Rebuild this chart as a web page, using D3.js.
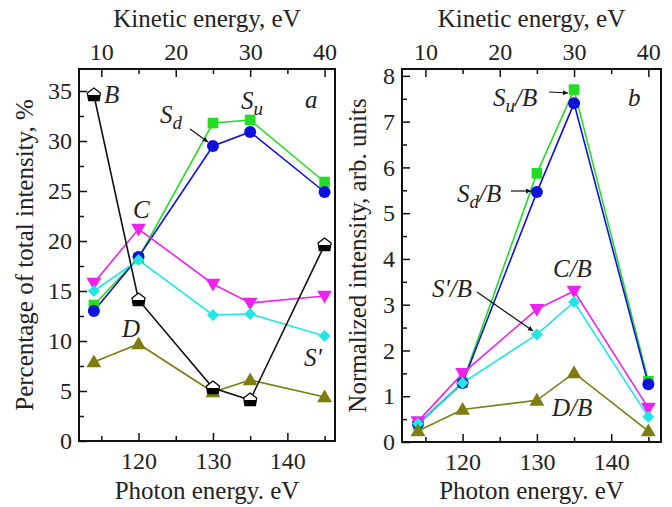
<!DOCTYPE html>
<html>
<head>
<meta charset="utf-8">
<script src="https://cdn.jsdelivr.net/npm/d3@7"></script>
<style>
  body { margin: 0; background: #fff; }
  svg { display: block; }
</style>
</head>
<body>
<svg id="chart" width="672" height="507" font-family="Liberation Serif"></svg>
<script>
// photon energies of the measured points
var photonEnergy = [114, 120, 130, 135, 145];
var kineticTicks = [10, 20, 30, 40];
var kineticMinor = [15, 25, 35];
var photonTicks = [120, 130, 140];
var photonMinor = [115, 125, 135, 145];
var kineticOffset = 105; // photon = kinetic + 105 eV

// panel a: percentage of total intensity
var pctSu = [13.6, 18.3, 31.8, 32.1, 25.9];
var pctSd = [13.0, 18.4, 29.5, 30.9, 24.9];
var pctC = [15.8, 21.2, 15.7, 13.8, 14.5];
var pctSp = [15.0, 18.1, 12.6, 12.7, 10.5];
var pctD = [7.9, 9.7, 4.9, 6.1, 4.4];
var pctB = [34.6, 14.1, 5.3, 4.1, 19.6];
var pctTicks = [0, 5, 10, 15, 20, 25, 30, 35];
var pctMinor = [2.5, 7.5, 12.5, 17.5, 22.5, 27.5, 32.5];

// panel b: normalized intensity (ratio to B)
var normSu = [0.38, 1.30, 5.87, 7.70, 1.33];
var normSd = [0.40, 1.29, 5.46, 7.40, 1.26];
var normC = [0.45, 1.50, 2.90, 3.30, 0.74];
var normSp = [0.40, 1.29, 2.35, 3.06, 0.55];
var normD = [0.24, 0.71, 0.91, 1.51, 0.24];
var normTicks = [0, 1, 2, 3, 4, 5, 6, 7, 8];
var normMinor = [0.5, 1.5, 2.5, 3.5, 4.5, 5.5, 6.5, 7.5];

var FONT = 'Liberation Serif';
var svg = d3.select('#chart');

var defs = svg.append('defs');
defs.append('marker')
    .attr('id', 'arrow')
    .attr('viewBox', '0 0 10 10')
    .attr('refX', 10).attr('refY', 5)
    .attr('markerWidth', 7).attr('markerHeight', 5)
    .attr('markerUnits', 'userSpaceOnUse')
    .attr('orient', 'auto')
    .append('path')
    .attr('d', 'M0,0 L10,5 L0,10 Z')
    .attr('fill', '#111');

function drawMarker(g, type, color, x, y) {
    if (type == 'circle') {
        g.append('circle').attr('cx', x).attr('cy', y).attr('r', 6).attr('fill', color);
    } else if (type == 'square') {
        g.append('rect').attr('x', x - 5.3).attr('y', y - 5.3).attr('width', 10.6).attr('height', 10.6).attr('fill', color);
    } else if (type == 'up') {
        g.append('path').attr('d', d3.symbol(d3.symbolTriangle, 95)())
            .attr('transform', 'translate(' + x + ',' + (y + 1) + ')').attr('fill', color);
    } else if (type == 'down') {
        g.append('path').attr('d', d3.symbol(d3.symbolTriangle, 95)())
            .attr('transform', 'translate(' + x + ',' + (y - 1) + ') rotate(180)').attr('fill', color);
    } else if (type == 'diamond') {
        g.append('path').attr('d', d3.symbol(d3.symbolSquare, 72)())
            .attr('transform', 'translate(' + x + ',' + y + ') rotate(45)').attr('fill', color);
    } else if (type == 'house') {
        g.append('path').attr('d', 'M0,-7 L6.5,-2 L5.2,5.5 L-5.2,5.5 L-6.5,-2 Z')
            .attr('transform', 'translate(' + x + ',' + y + ')')
            .attr('fill', '#fff').attr('stroke', '#000').attr('stroke-width', 1.3);
        g.append('path').attr('d', 'M-6,0 L6,0 L5.2,5.5 L-5.2,5.5 Z')
            .attr('transform', 'translate(' + x + ',' + y + ')')
            .attr('fill', '#000');
    }
}

function styleAxis(a) {
    a.select('.domain').remove();
    a.attr('font-family', FONT).attr('font-size', 24);
    a.selectAll('text').attr('fill', '#222');
}

function drawPanel(p) {
    var g = svg.append('g');
    var x = d3.scaleLinear().domain(p.xDomain).range([p.left, p.right]);
    var xk = d3.scaleLinear().domain([p.xDomain[0] - kineticOffset, p.xDomain[1] - kineticOffset]).range([p.left, p.right]);
    var y = d3.scaleLinear().domain(p.yDomain).range([p.bottom, p.top]);

    // bottom axis (inward ticks)
    g.append('g').attr('transform', 'translate(0,' + p.bottom + ')')
        .call(d3.axisBottom(x).tickValues(photonTicks).tickSize(-8).tickPadding(11))
        .call(styleAxis);
    g.append('g').attr('transform', 'translate(0,' + p.bottom + ')')
        .call(d3.axisBottom(x).tickValues(photonMinor).tickSize(-5).tickFormat(''))
        .call(styleAxis);
    // top axis: kinetic energy
    g.append('g').attr('transform', 'translate(0,' + p.top + ')')
        .call(d3.axisTop(xk).tickValues(kineticTicks).tickSize(-8).tickPadding(9))
        .call(styleAxis);
    g.append('g').attr('transform', 'translate(0,' + p.top + ')')
        .call(d3.axisTop(xk).tickValues(kineticMinor).tickSize(-5).tickFormat(''))
        .call(styleAxis);
    // left axis
    g.append('g').attr('transform', 'translate(' + p.left + ',0)')
        .call(d3.axisLeft(y).tickValues(p.yTicks).tickSize(-8).tickPadding(7))
        .call(styleAxis);
    g.append('g').attr('transform', 'translate(' + p.left + ',0)')
        .call(d3.axisLeft(y).tickValues(p.yMinor).tickSize(-5).tickFormat(''))
        .call(styleAxis);
    g.selectAll('.tick line').attr('stroke', '#111').attr('stroke-width', 1.5);

    g.append('rect')
        .attr('x', p.left).attr('y', p.top)
        .attr('width', p.right - p.left).attr('height', p.bottom - p.top)
        .attr('fill', 'none').attr('stroke', '#111').attr('stroke-width', 2);

    var line = d3.line().x((d, i) => x(photonEnergy[i])).y(d => y(d));
    p.series.forEach(function (s) {
        g.append('path').datum(s.values)
            .attr('d', line)
            .attr('fill', 'none')
            .attr('stroke', s.color)
            .attr('stroke-width', 1.6);
    });
    p.series.forEach(function (s) {
        s.values.forEach(function (v, i) {
            drawMarker(g, s.marker, s.color, x(photonEnergy[i]), y(v));
        });
    });

    // axis titles
    var cx = (p.left + p.right) / 2;
    g.append('text').attr('x', cx).attr('y', 27).attr('text-anchor', 'middle')
        .attr('font-family', FONT).attr('font-size', 25).attr('fill', '#222').text('Kinetic energy, eV');
    g.append('text').attr('x', cx).attr('y', 499).attr('text-anchor', 'middle')
        .attr('font-family', FONT).attr('font-size', 25).attr('fill', '#222').text('Photon energy. eV');
    g.append('text')
        .attr('transform', 'translate(' + p.yTitleX + ',' + ((p.top + p.bottom) / 2) + ') rotate(-90)')
        .attr('text-anchor', 'middle')
        .attr('font-family', FONT).attr('font-size', 25).attr('fill', '#222').text(p.yTitle);
    return g;
}

function label(g, px, py, parts, anchor) {
    var t = g.append('text').attr('x', px).attr('y', py)
        .attr('text-anchor', anchor || 'start')
        .attr('font-family', FONT).attr('font-size', 25)
        .attr('font-style', 'italic').attr('fill', '#222');
    parts.forEach(function (pt) {
        var ts = t.append('tspan').text(pt[0]);
        if (pt[1] == 'sub') ts.attr('dy', 6).attr('font-size', 19);
        if (pt[1] == 'up') ts.attr('dy', -6);
    });
}

var ga = drawPanel({
    left: 79, right: 335, top: 69, bottom: 441,
    xDomain: [112, 146.4], yDomain: [0, 37.2],
    yTicks: pctTicks, yMinor: pctMinor,
    yTitle: 'Percentage of total intensity, %', yTitleX: 33,
    series: [
        { values: pctSu, color: '#22dd22', marker: 'square' },
        { values: pctSd, color: '#1010dd', marker: 'circle' },
        { values: pctC, color: '#ee22ee', marker: 'down' },
        { values: pctSp, color: '#22e6e6', marker: 'diamond' },
        { values: pctD, color: '#7d7d10', marker: 'up' },
        { values: pctB, color: '#111', marker: 'house' }
    ]
});
label(ga, 104, 103, [['B']]);
label(ga, 160, 123, [['S'], ['d', 'sub']]);
label(ga, 241, 109, [['S'], ['u', 'sub']]);
label(ga, 305, 108, [['a']]);
label(ga, 133, 218, [['C']]);
label(ga, 122, 337, [['D']]);
label(ga, 304, 366, [["S'"]]);
ga.append('line').attr('x1', 190).attr('y1', 129).attr('x2', 208).attr('y2', 142)
    .attr('stroke', '#111').attr('stroke-width', 1.2).attr('marker-end', 'url(#arrow)');

var gb = drawPanel({
    left: 402, right: 661, top: 69, bottom: 442,
    xDomain: [111.85, 146.7], yDomain: [0, 8.15],
    yTicks: normTicks, yMinor: normMinor,
    yTitle: 'Normalized intensity, arb. units', yTitleX: 366,
    series: [
        { values: normSu, color: '#22dd22', marker: 'square' },
        { values: normSd, color: '#1010dd', marker: 'circle' },
        { values: normC, color: '#ee22ee', marker: 'down' },
        { values: normSp, color: '#22e6e6', marker: 'diamond' },
        { values: normD, color: '#7d7d10', marker: 'up' }
    ]
});
label(gb, 493, 106, [['S'], ['u', 'sub'], ['/B', 'up']]);
label(gb, 457, 202, [['S'], ['d', 'sub'], ['/B', 'up']]);
label(gb, 628, 106, [['b']]);
label(gb, 553, 277, [['C/B']]);
label(gb, 432, 297, [["S'/B"]]);
label(gb, 552, 416, [['D/B']]);
gb.append('line').attr('x1', 549).attr('y1', 92).attr('x2', 568).attr('y2', 93)
    .attr('stroke', '#111').attr('stroke-width', 1.2).attr('marker-end', 'url(#arrow)');
gb.append('line').attr('x1', 511).attr('y1', 191).attr('x2', 531).attr('y2', 191)
    .attr('stroke', '#111').attr('stroke-width', 1.2).attr('marker-end', 'url(#arrow)');
gb.append('line').attr('x1', 477).attr('y1', 292).attr('x2', 533).attr('y2', 331)
    .attr('stroke', '#111').attr('stroke-width', 1.2).attr('marker-end', 'url(#arrow)');
</script>
</body>
</html>
